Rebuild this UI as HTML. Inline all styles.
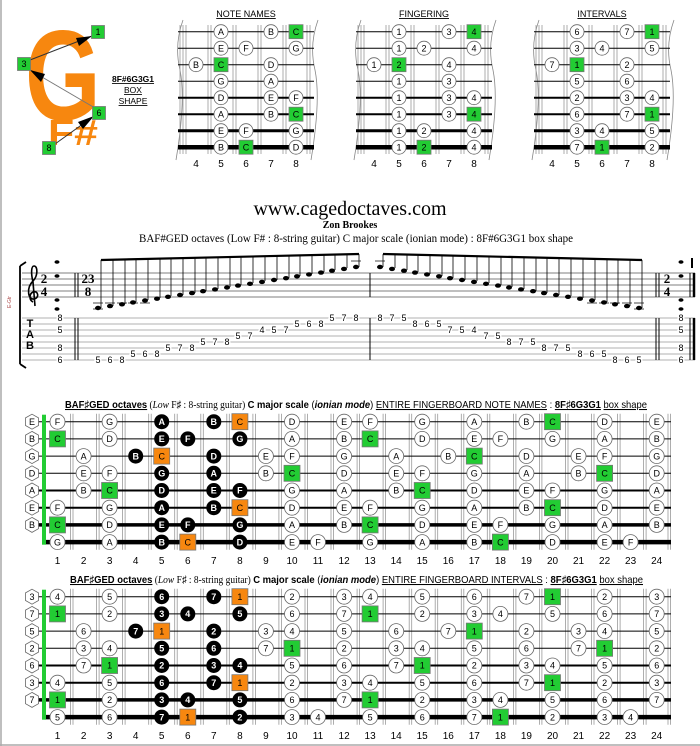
<!DOCTYPE html>
<html><head><meta charset="utf-8"><style>
html,body{margin:0;padding:0;background:#fff}
svg{display:block;font-family:"Liberation Sans",sans-serif;font-size:9px;text-anchor:middle}
.w circle{fill:#fff;stroke:#666;stroke-width:.8}
.b circle{fill:#000}
.b text{fill:#fff;font-weight:bold}
.g rect{fill:#22cc33;stroke:#777;stroke-width:.8}
.o rect{fill:#f7870f;stroke:#777;stroke-width:.8}
.h polygon{fill:#fff;stroke:#666;stroke-width:.8}
.fn{font-size:10px}
.tab text{font-size:9px;paint-order:stroke;stroke:#fff;stroke-width:3px}
.fr line{stroke:#999;stroke-width:.8}
</style></head><body>
<svg width="700" height="746" viewBox="0 0 700 746" xmlns="http://www.w3.org/2000/svg">
<rect x="0" y="0" width="700" height="746" fill="#fff"/>
<line x1="1" y1="0" x2="1" y2="746" stroke="#aaa" stroke-width="1.5"/>
<line x1="0" y1="745" x2="700" y2="745" stroke="#aaa" stroke-width="1.5"/>

<!-- LOGO -->
<text transform="translate(25,120) scale(0.76,1)" font-size="128" font-weight="bold" fill="#f7870f" text-anchor="start">G</text>
<text transform="translate(48,145) scale(1.19,1)" font-size="36" font-weight="bold" fill="#f7870f" text-anchor="start">F#</text>
<line x1="30" y1="60" x2="92" y2="36" stroke="#333" stroke-width="1"/>
<polygon points="92,36 76,38 79,46" fill="#000"/>
<line x1="95" y1="108" x2="30" y2="70" stroke="#777" stroke-width="1"/>
<polygon points="30,70 41,82 45,74" fill="#000"/>
<line x1="55" y1="144" x2="94" y2="116" stroke="#333" stroke-width="1"/>
<polygon points="94,116 78,122 83,129" fill="#000"/>
<g class="g" transform="translate(98,32)"><rect x="-6.5" y="-6.5" width="13" height="13"/><text y="3">1</text></g>
<g class="g" transform="translate(24,64)"><rect x="-6.5" y="-6.5" width="13" height="13"/><text y="3">3</text></g>
<g class="g" transform="translate(99,113)"><rect x="-6.5" y="-6.5" width="13" height="13"/><text y="3">6</text></g>
<g class="g" transform="translate(49,148)"><rect x="-6.5" y="-6.5" width="13" height="13"/><text y="3">8</text></g>
<text x="133" y="82" font-size="8.5" font-weight="bold" text-decoration="underline">8F#6G3G1</text>
<text x="133" y="93" font-size="8.5" text-decoration="underline">BOX</text>
<text x="133" y="104" font-size="8.5" text-decoration="underline">SHAPE</text>

<!-- TOP DIAGRAM TEMPLATE -->
<g id="d1">
<path d="M183,20 Q174,45 180,70 Q186,100 176,160" fill="none" stroke="#888" stroke-width=".8"/>
<path d="M318,20 Q309,45 315,70 Q321,100 311,160" fill="none" stroke="#888" stroke-width=".8"/>
<g class="fr">
<line x1="180" y1="25" x2="180" y2="154"/><line x1="183" y1="25" x2="183" y2="154"/><line x1="186" y1="25" x2="186" y2="154"/>
<line x1="208" y1="25" x2="208" y2="154"/><line x1="211" y1="25" x2="211" y2="154"/>
<line x1="233" y1="25" x2="233" y2="154"/><line x1="236" y1="25" x2="236" y2="154"/>
<line x1="258" y1="25" x2="258" y2="154"/><line x1="261" y1="25" x2="261" y2="154"/>
<line x1="283" y1="25" x2="283" y2="154"/><line x1="286" y1="25" x2="286" y2="154"/>
<line x1="307" y1="25" x2="307" y2="154"/><line x1="310" y1="25" x2="310" y2="154"/>
</g>
<g stroke="#000">
<line x1="178" y1="31.7" x2="314" y2="31.7" stroke-width="1"/>
<line x1="178" y1="48.2" x2="314" y2="48.2" stroke-width="1"/>
<line x1="178" y1="64.7" x2="314" y2="64.7" stroke-width="1"/>
<line x1="178" y1="81.2" x2="314" y2="81.2" stroke-width="1"/>
<line x1="178" y1="97.7" x2="314" y2="97.7" stroke-width="2"/>
<line x1="178" y1="114.2" x2="314" y2="114.2" stroke-width="2"/>
<line x1="178" y1="130.7" x2="314" y2="130.7" stroke-width="3"/>
<line x1="178" y1="147.2" x2="314" y2="147.2" stroke-width="4.5"/>
</g>
<text class="fn" x="196" y="167">4</text><text class="fn" x="221" y="167">5</text><text class="fn" x="246" y="167">6</text><text class="fn" x="271" y="167">7</text><text class="fn" x="296" y="167">8</text>
</g>
<use href="#d1" transform="translate(178,0)"/>
<use href="#d1" transform="translate(356,0)"/>
<text x="246" y="17" text-decoration="underline">NOTE NAMES</text>
<text x="424" y="17" text-decoration="underline">FINGERING</text>
<text x="602" y="17" text-decoration="underline">INTERVALS</text>

<!-- note names -->
<g class="w" transform="translate(221,31.7)"><circle r="7"/><text y="3.2">A</text></g>
<g class="w" transform="translate(271,31.7)"><circle r="7"/><text y="3.2">B</text></g>
<g class="g" transform="translate(296,31.7)"><rect x="-7" y="-7" width="14" height="14"/><text y="3.2">C</text></g>
<g class="w" transform="translate(221,48.2)"><circle r="7"/><text y="3.2">E</text></g>
<g class="w" transform="translate(246,48.2)"><circle r="7"/><text y="3.2">F</text></g>
<g class="w" transform="translate(296,48.2)"><circle r="7"/><text y="3.2">G</text></g>
<g class="w" transform="translate(196,64.7)"><circle r="7"/><text y="3.2">B</text></g>
<g class="g" transform="translate(221,64.7)"><rect x="-7" y="-7" width="14" height="14"/><text y="3.2">C</text></g>
<g class="w" transform="translate(271,64.7)"><circle r="7"/><text y="3.2">D</text></g>
<g class="w" transform="translate(221,81.2)"><circle r="7"/><text y="3.2">G</text></g>
<g class="w" transform="translate(271,81.2)"><circle r="7"/><text y="3.2">A</text></g>
<g class="w" transform="translate(221,97.7)"><circle r="7"/><text y="3.2">D</text></g>
<g class="w" transform="translate(271,97.7)"><circle r="7"/><text y="3.2">E</text></g>
<g class="w" transform="translate(296,97.7)"><circle r="7"/><text y="3.2">F</text></g>
<g class="w" transform="translate(221,114.2)"><circle r="7"/><text y="3.2">A</text></g>
<g class="w" transform="translate(271,114.2)"><circle r="7"/><text y="3.2">B</text></g>
<g class="g" transform="translate(296,114.2)"><rect x="-7" y="-7" width="14" height="14"/><text y="3.2">C</text></g>
<g class="w" transform="translate(221,130.7)"><circle r="7"/><text y="3.2">E</text></g>
<g class="w" transform="translate(246,130.7)"><circle r="7"/><text y="3.2">F</text></g>
<g class="w" transform="translate(296,130.7)"><circle r="7"/><text y="3.2">G</text></g>
<g class="w" transform="translate(221,147.2)"><circle r="7"/><text y="3.2">B</text></g>
<g class="g" transform="translate(246,147.2)"><rect x="-7" y="-7" width="14" height="14"/><text y="3.2">C</text></g>
<g class="w" transform="translate(296,147.2)"><circle r="7"/><text y="3.2">D</text></g>
<!-- fingering -->
<g class="w" transform="translate(399,31.7)"><circle r="7"/><text y="3.2">1</text></g>
<g class="w" transform="translate(449,31.7)"><circle r="7"/><text y="3.2">3</text></g>
<g class="g" transform="translate(474,31.7)"><rect x="-7" y="-7" width="14" height="14"/><text y="3.2">4</text></g>
<g class="w" transform="translate(399,48.2)"><circle r="7"/><text y="3.2">1</text></g>
<g class="w" transform="translate(424,48.2)"><circle r="7"/><text y="3.2">2</text></g>
<g class="w" transform="translate(474,48.2)"><circle r="7"/><text y="3.2">4</text></g>
<g class="w" transform="translate(374,64.7)"><circle r="7"/><text y="3.2">1</text></g>
<g class="g" transform="translate(399,64.7)"><rect x="-7" y="-7" width="14" height="14"/><text y="3.2">2</text></g>
<g class="w" transform="translate(449,64.7)"><circle r="7"/><text y="3.2">4</text></g>
<g class="w" transform="translate(399,81.2)"><circle r="7"/><text y="3.2">1</text></g>
<g class="w" transform="translate(449,81.2)"><circle r="7"/><text y="3.2">3</text></g>
<g class="w" transform="translate(399,97.7)"><circle r="7"/><text y="3.2">1</text></g>
<g class="w" transform="translate(449,97.7)"><circle r="7"/><text y="3.2">3</text></g>
<g class="w" transform="translate(474,97.7)"><circle r="7"/><text y="3.2">4</text></g>
<g class="w" transform="translate(399,114.2)"><circle r="7"/><text y="3.2">1</text></g>
<g class="w" transform="translate(449,114.2)"><circle r="7"/><text y="3.2">3</text></g>
<g class="g" transform="translate(474,114.2)"><rect x="-7" y="-7" width="14" height="14"/><text y="3.2">4</text></g>
<g class="w" transform="translate(399,130.7)"><circle r="7"/><text y="3.2">1</text></g>
<g class="w" transform="translate(424,130.7)"><circle r="7"/><text y="3.2">2</text></g>
<g class="w" transform="translate(474,130.7)"><circle r="7"/><text y="3.2">4</text></g>
<g class="w" transform="translate(399,147.2)"><circle r="7"/><text y="3.2">1</text></g>
<g class="g" transform="translate(424,147.2)"><rect x="-7" y="-7" width="14" height="14"/><text y="3.2">2</text></g>
<g class="w" transform="translate(474,147.2)"><circle r="7"/><text y="3.2">4</text></g>
<!-- intervals -->
<g class="w" transform="translate(577,31.7)"><circle r="7"/><text y="3.2">6</text></g>
<g class="w" transform="translate(627,31.7)"><circle r="7"/><text y="3.2">7</text></g>
<g class="g" transform="translate(652,31.7)"><rect x="-7" y="-7" width="14" height="14"/><text y="3.2">1</text></g>
<g class="w" transform="translate(577,48.2)"><circle r="7"/><text y="3.2">3</text></g>
<g class="w" transform="translate(602,48.2)"><circle r="7"/><text y="3.2">4</text></g>
<g class="w" transform="translate(652,48.2)"><circle r="7"/><text y="3.2">5</text></g>
<g class="w" transform="translate(552,64.7)"><circle r="7"/><text y="3.2">7</text></g>
<g class="g" transform="translate(577,64.7)"><rect x="-7" y="-7" width="14" height="14"/><text y="3.2">1</text></g>
<g class="w" transform="translate(627,64.7)"><circle r="7"/><text y="3.2">2</text></g>
<g class="w" transform="translate(577,81.2)"><circle r="7"/><text y="3.2">5</text></g>
<g class="w" transform="translate(627,81.2)"><circle r="7"/><text y="3.2">6</text></g>
<g class="w" transform="translate(577,97.7)"><circle r="7"/><text y="3.2">2</text></g>
<g class="w" transform="translate(627,97.7)"><circle r="7"/><text y="3.2">3</text></g>
<g class="w" transform="translate(652,97.7)"><circle r="7"/><text y="3.2">4</text></g>
<g class="w" transform="translate(577,114.2)"><circle r="7"/><text y="3.2">6</text></g>
<g class="w" transform="translate(627,114.2)"><circle r="7"/><text y="3.2">7</text></g>
<g class="g" transform="translate(652,114.2)"><rect x="-7" y="-7" width="14" height="14"/><text y="3.2">1</text></g>
<g class="w" transform="translate(577,130.7)"><circle r="7"/><text y="3.2">3</text></g>
<g class="w" transform="translate(602,130.7)"><circle r="7"/><text y="3.2">4</text></g>
<g class="w" transform="translate(652,130.7)"><circle r="7"/><text y="3.2">5</text></g>
<g class="w" transform="translate(577,147.2)"><circle r="7"/><text y="3.2">7</text></g>
<g class="g" transform="translate(602,147.2)"><rect x="-7" y="-7" width="14" height="14"/><text y="3.2">1</text></g>
<g class="w" transform="translate(652,147.2)"><circle r="7"/><text y="3.2">2</text></g>

<!-- HEADER TEXT -->
<text x="350" y="215" style="font-family:'Liberation Serif',serif;font-size:20px">www.cagedoctaves.com</text>
<text x="350" y="228" style="font-family:'Liberation Serif',serif;font-size:10px;font-weight:bold">Zon Brookes</text>
<text x="356" y="242" style="font-family:'Liberation Serif',serif;font-size:11.5px" textLength="434" lengthAdjust="spacingAndGlyphs">BAF#GED octaves (Low F# : 8-string guitar) C major scale (ionian mode) : 8F#6G3G1 box shape</text>

<!-- STAFF -->
<g stroke="#555" stroke-width=".8">
<line x1="22" y1="273" x2="695" y2="273"/><line x1="22" y1="279" x2="695" y2="279"/><line x1="22" y1="285" x2="695" y2="285"/><line x1="22" y1="291" x2="695" y2="291"/><line x1="22" y1="297" x2="695" y2="297"/>
</g>
<g stroke="#999" stroke-width=".8">
<line x1="22" y1="318" x2="695" y2="318"/><line x1="22" y1="324" x2="695" y2="324"/><line x1="22" y1="330" x2="695" y2="330"/><line x1="22" y1="336" x2="695" y2="336"/><line x1="22" y1="342" x2="695" y2="342"/><line x1="22" y1="348" x2="695" y2="348"/><line x1="22" y1="354" x2="695" y2="354"/><line x1="22" y1="360" x2="695" y2="360"/>
</g>
<path d="M20,266 L20,364 M20,266 q3,-2 6,-4 M20,364 q3,2 6,4" stroke="#000" stroke-width="1.8" fill="none"/>
<text transform="translate(11,302) rotate(-90)" font-size="5" fill="#a44">E-Gtr</text>
<path d="M33,302 C29,300 29,294 33,292 C38,290 40,298 34,299 C28,300 26,288 33,281 C38,276 38,266 34,266 C31,266 31,274 33,282 L35,306" stroke="#000" stroke-width="1.6" fill="none"/>
<g style="font-family:'Liberation Serif',serif;font-weight:bold;font-size:13px">
<text x="44" y="283">2</text><text x="44" y="296">4</text>
<text x="88" y="283">23</text><text x="88" y="296">8</text>
<text x="667" y="283">2</text><text x="667" y="296">4</text>
</g>
<g fill="#000">
<ellipse cx="57" cy="262" rx="2.5" ry="1.8"/><ellipse cx="57" cy="276" rx="2.5" ry="1.8"/><ellipse cx="57" cy="300" rx="2.5" ry="1.8"/><ellipse cx="57" cy="309" rx="2.5" ry="1.8"/>
<ellipse cx="681" cy="262" rx="2.5" ry="1.8"/><ellipse cx="681" cy="276" rx="2.5" ry="1.8"/><ellipse cx="681" cy="300" rx="2.5" ry="1.8"/><ellipse cx="681" cy="309" rx="2.5" ry="1.8"/>
</g>
<g stroke="#000">
<line x1="75" y1="273" x2="75" y2="297" stroke-width="1"/><line x1="78" y1="273" x2="78" y2="297" stroke-width="1"/>
<line x1="75" y1="318" x2="75" y2="360" stroke-width="1"/><line x1="78" y1="318" x2="78" y2="360" stroke-width="1"/>
<line x1="370" y1="273" x2="370" y2="297" stroke-width="1"/><line x1="370" y1="318" x2="370" y2="360" stroke-width="1"/>
<line x1="656" y1="273" x2="656" y2="297" stroke-width="1"/><line x1="659" y1="273" x2="659" y2="297" stroke-width="1"/>
<line x1="656" y1="318" x2="656" y2="360" stroke-width="1"/><line x1="659" y1="318" x2="659" y2="360" stroke-width="1"/>
<line x1="690" y1="273" x2="690" y2="297" stroke-width="1"/><line x1="694" y1="273" x2="694" y2="297" stroke-width="2.5"/>
<line x1="690" y1="318" x2="690" y2="360" stroke-width="1"/><line x1="694" y1="318" x2="694" y2="360" stroke-width="2.5"/>
<line x1="692" y1="258" x2="692" y2="268" stroke-width="2"/>
</g>
<g style="font-size:11px;font-weight:bold"><text x="30" y="327">T</text><text x="30" y="338">A</text><text x="30" y="349">B</text></g>
<defs>
<clipPath id="c1"><polygon points="95,260 365,254 365,330 95,330"/></clipPath>
<clipPath id="c2"><polygon points="375,254 645,260 645,330 375,330"/></clipPath>
</defs>
<g fill="#000">
<ellipse cx="98" cy="308" rx="3" ry="2.2"/><ellipse cx="110" cy="306.1" rx="3" ry="2.2"/><ellipse cx="122" cy="304.3" rx="3" ry="2.2"/><ellipse cx="133" cy="302.4" rx="3" ry="2.2"/><ellipse cx="145" cy="300.5" rx="3" ry="2.2"/><ellipse cx="157" cy="298.7" rx="3" ry="2.2"/><ellipse cx="168" cy="296.8" rx="3" ry="2.2"/><ellipse cx="180" cy="295" rx="3" ry="2.2"/><ellipse cx="192" cy="293.1" rx="3" ry="2.2"/><ellipse cx="203" cy="291.2" rx="3" ry="2.2"/><ellipse cx="215" cy="289.4" rx="3" ry="2.2"/><ellipse cx="227" cy="287.5" rx="3" ry="2.2"/><ellipse cx="238" cy="285.6" rx="3" ry="2.2"/><ellipse cx="250" cy="283.8" rx="3" ry="2.2"/><ellipse cx="262" cy="281.9" rx="3" ry="2.2"/><ellipse cx="274" cy="280" rx="3" ry="2.2"/><ellipse cx="286" cy="278.2" rx="3" ry="2.2"/><ellipse cx="297" cy="276.3" rx="3" ry="2.2"/><ellipse cx="309" cy="274.4" rx="3" ry="2.2"/><ellipse cx="321" cy="272.6" rx="3" ry="2.2"/><ellipse cx="332" cy="270.7" rx="3" ry="2.2"/><ellipse cx="344" cy="268.9" rx="3" ry="2.2"/><ellipse cx="356" cy="267" rx="3" ry="2.2"/>
<ellipse cx="380" cy="267" rx="3" ry="2.2"/><ellipse cx="392" cy="268.9" rx="3" ry="2.2"/><ellipse cx="404" cy="270.7" rx="3" ry="2.2"/><ellipse cx="415" cy="272.6" rx="3" ry="2.2"/><ellipse cx="427" cy="274.4" rx="3" ry="2.2"/><ellipse cx="439" cy="276.3" rx="3" ry="2.2"/><ellipse cx="450" cy="278.2" rx="3" ry="2.2"/><ellipse cx="462" cy="280" rx="3" ry="2.2"/><ellipse cx="474" cy="281.9" rx="3" ry="2.2"/><ellipse cx="486" cy="283.8" rx="3" ry="2.2"/><ellipse cx="498" cy="285.6" rx="3" ry="2.2"/><ellipse cx="509" cy="287.5" rx="3" ry="2.2"/><ellipse cx="521" cy="289.4" rx="3" ry="2.2"/><ellipse cx="533" cy="291.2" rx="3" ry="2.2"/><ellipse cx="544" cy="293.1" rx="3" ry="2.2"/><ellipse cx="556" cy="295" rx="3" ry="2.2"/><ellipse cx="568" cy="296.8" rx="3" ry="2.2"/><ellipse cx="580" cy="298.7" rx="3" ry="2.2"/><ellipse cx="592" cy="300.5" rx="3" ry="2.2"/><ellipse cx="604" cy="302.4" rx="3" ry="2.2"/><ellipse cx="615" cy="304.3" rx="3" ry="2.2"/><ellipse cx="627" cy="306.1" rx="3" ry="2.2"/><ellipse cx="639" cy="308" rx="3" ry="2.2"/>
</g>
<g stroke="#000" stroke-width=".8" clip-path="url(#c1)">
<line x1="101" y1="308" x2="101" y2="250"/><line x1="113" y1="306" x2="113" y2="250"/><line x1="125" y1="304" x2="125" y2="250"/><line x1="136" y1="302" x2="136" y2="250"/><line x1="148" y1="300" x2="148" y2="250"/><line x1="160" y1="298" x2="160" y2="250"/><line x1="171" y1="296" x2="171" y2="250"/><line x1="183" y1="295" x2="183" y2="250"/><line x1="195" y1="293" x2="195" y2="250"/><line x1="206" y1="291" x2="206" y2="250"/><line x1="218" y1="289" x2="218" y2="250"/><line x1="230" y1="287" x2="230" y2="250"/><line x1="241" y1="285" x2="241" y2="250"/><line x1="253" y1="283" x2="253" y2="250"/><line x1="265" y1="281" x2="265" y2="250"/><line x1="277" y1="280" x2="277" y2="250"/><line x1="289" y1="278" x2="289" y2="250"/><line x1="300" y1="276" x2="300" y2="250"/><line x1="312" y1="274" x2="312" y2="250"/><line x1="324" y1="272" x2="324" y2="250"/><line x1="335" y1="270" x2="335" y2="250"/><line x1="347" y1="268" x2="347" y2="250"/><line x1="359" y1="267" x2="359" y2="250"/>
</g>
<g stroke="#000" stroke-width=".8" clip-path="url(#c2)">
<line x1="383" y1="267" x2="383" y2="250"/><line x1="395" y1="268" x2="395" y2="250"/><line x1="407" y1="270" x2="407" y2="250"/><line x1="418" y1="272" x2="418" y2="250"/><line x1="430" y1="274" x2="430" y2="250"/><line x1="442" y1="276" x2="442" y2="250"/><line x1="453" y1="278" x2="453" y2="250"/><line x1="465" y1="280" x2="465" y2="250"/><line x1="477" y1="281" x2="477" y2="250"/><line x1="489" y1="283" x2="489" y2="250"/><line x1="501" y1="285" x2="501" y2="250"/><line x1="512" y1="287" x2="512" y2="250"/><line x1="524" y1="289" x2="524" y2="250"/><line x1="536" y1="291" x2="536" y2="250"/><line x1="547" y1="293" x2="547" y2="250"/><line x1="559" y1="295" x2="559" y2="250"/><line x1="571" y1="296" x2="571" y2="250"/><line x1="583" y1="298" x2="583" y2="250"/><line x1="595" y1="300" x2="595" y2="250"/><line x1="607" y1="302" x2="607" y2="250"/><line x1="618" y1="304" x2="618" y2="250"/><line x1="630" y1="306" x2="630" y2="250"/><line x1="642" y1="308" x2="642" y2="250"/>
</g>
<line x1="101" y1="260" x2="359" y2="254" stroke="#000" stroke-width="2.2"/>
<line x1="383" y1="254" x2="642" y2="260" stroke="#000" stroke-width="2.2"/>
<g stroke="#000" stroke-width=".7">
<line x1="93" y1="303" x2="103" y2="303"/><line x1="93" y1="309" x2="103" y2="309"/><line x1="105" y1="303" x2="115" y2="303"/><line x1="117" y1="303" x2="127" y2="303"/><line x1="128" y1="303" x2="138" y2="303"/><line x1="140" y1="303" x2="150" y2="303"/>
<line x1="634" y1="303" x2="644" y2="303"/><line x1="634" y1="309" x2="644" y2="309"/><line x1="622" y1="303" x2="632" y2="303"/><line x1="610" y1="303" x2="620" y2="303"/><line x1="599" y1="303" x2="609" y2="303"/><line x1="587" y1="303" x2="597" y2="303"/>
<line x1="351" y1="261" x2="361" y2="261"/><line x1="375" y1="261" x2="385" y2="261"/>
</g>
<!-- TAB -->
<g class="tab">
<text x="60" y="321">8</text><text x="60" y="333">5</text><text x="60" y="351">8</text><text x="60" y="363">6</text>
<text x="681" y="321">8</text><text x="681" y="333">5</text><text x="681" y="351">8</text><text x="681" y="363">6</text>
<text x="98" y="363">5</text><text x="110" y="363">6</text><text x="122" y="363">8</text>
<text x="133" y="357">5</text><text x="145" y="357">6</text><text x="157" y="357">8</text>
<text x="168" y="351">5</text><text x="180" y="351">7</text><text x="192" y="351">8</text>
<text x="203" y="345">5</text><text x="215" y="345">7</text><text x="227" y="345">8</text>
<text x="238" y="339">5</text><text x="250" y="339">7</text>
<text x="262" y="333">4</text><text x="274" y="333">5</text><text x="286" y="333">7</text>
<text x="297" y="327">5</text><text x="309" y="327">6</text><text x="321" y="327">8</text>
<text x="332" y="321">5</text><text x="344" y="321">7</text><text x="356" y="321">8</text>
<text x="380" y="321">8</text><text x="392" y="321">7</text><text x="404" y="321">5</text>
<text x="415" y="327">8</text><text x="427" y="327">6</text><text x="439" y="327">5</text>
<text x="450" y="333">7</text><text x="462" y="333">5</text><text x="474" y="333">4</text>
<text x="486" y="339">7</text><text x="498" y="339">5</text>
<text x="509" y="345">8</text><text x="521" y="345">7</text><text x="533" y="345">5</text>
<text x="544" y="351">8</text><text x="556" y="351">7</text><text x="568" y="351">5</text>
<text x="580" y="357">8</text><text x="592" y="357">6</text><text x="604" y="357">5</text>
<text x="615" y="363">8</text><text x="627" y="363">6</text><text x="639" y="363">5</text>
</g>

<!-- BIG FRETBOARD TEMPLATE -->
<defs>
<g id="fb">
<g class="fr">
<line x1="70.5" y1="-8" x2="70.5" y2="128"/><line x1="73" y1="-8" x2="73" y2="128"/>
<line x1="96.6" y1="-8" x2="96.6" y2="128"/><line x1="99.1" y1="-8" x2="99.1" y2="128"/>
<line x1="122.6" y1="-8" x2="122.6" y2="128"/><line x1="125.1" y1="-8" x2="125.1" y2="128"/>
<line x1="148.7" y1="-8" x2="148.7" y2="128"/><line x1="151.2" y1="-8" x2="151.2" y2="128"/>
<line x1="174.7" y1="-8" x2="174.7" y2="128"/><line x1="177.2" y1="-8" x2="177.2" y2="128"/>
<line x1="200.8" y1="-8" x2="200.8" y2="128"/><line x1="203.3" y1="-8" x2="203.3" y2="128"/>
<line x1="226.8" y1="-8" x2="226.8" y2="128"/><line x1="229.3" y1="-8" x2="229.3" y2="128"/>
<line x1="252.9" y1="-8" x2="252.9" y2="128"/><line x1="255.4" y1="-8" x2="255.4" y2="128"/>
<line x1="278.9" y1="-8" x2="278.9" y2="128"/><line x1="281.4" y1="-8" x2="281.4" y2="128"/>
<line x1="305" y1="-8" x2="305" y2="128"/><line x1="307.5" y1="-8" x2="307.5" y2="128"/>
<line x1="331" y1="-8" x2="331" y2="128"/><line x1="333.5" y1="-8" x2="333.5" y2="128"/>
<line x1="357.1" y1="-8" x2="357.1" y2="128"/><line x1="359.6" y1="-8" x2="359.6" y2="128"/>
<line x1="383.1" y1="-8" x2="383.1" y2="128"/><line x1="385.6" y1="-8" x2="385.6" y2="128"/>
<line x1="409.2" y1="-8" x2="409.2" y2="128"/><line x1="411.7" y1="-8" x2="411.7" y2="128"/>
<line x1="435.2" y1="-8" x2="435.2" y2="128"/><line x1="437.7" y1="-8" x2="437.7" y2="128"/>
<line x1="461.3" y1="-8" x2="461.3" y2="128"/><line x1="463.8" y1="-8" x2="463.8" y2="128"/>
<line x1="487.3" y1="-8" x2="487.3" y2="128"/><line x1="489.8" y1="-8" x2="489.8" y2="128"/>
<line x1="513.4" y1="-8" x2="513.4" y2="128"/><line x1="515.9" y1="-8" x2="515.9" y2="128"/>
<line x1="539.4" y1="-8" x2="539.4" y2="128"/><line x1="541.9" y1="-8" x2="541.9" y2="128"/>
<line x1="565.5" y1="-8" x2="565.5" y2="128"/><line x1="568" y1="-8" x2="568" y2="128"/>
<line x1="591.5" y1="-8" x2="591.5" y2="128"/><line x1="594" y1="-8" x2="594" y2="128"/>
<line x1="617.6" y1="-8" x2="617.6" y2="128"/><line x1="620.1" y1="-8" x2="620.1" y2="128"/>
<line x1="643.6" y1="-8" x2="643.6" y2="128"/><line x1="646.1" y1="-8" x2="646.1" y2="128"/>
<line x1="668" y1="-8" x2="668" y2="128"/><line x1="670.5" y1="-8" x2="670.5" y2="128"/>
</g>
<g stroke="#000">
<line x1="38" y1="0" x2="671" y2="0" stroke-width="1"/>
<line x1="38" y1="17.2" x2="671" y2="17.2" stroke-width="1"/>
<line x1="38" y1="34.4" x2="671" y2="34.4" stroke-width="1"/>
<line x1="38" y1="51.6" x2="671" y2="51.6" stroke-width="1"/>
<line x1="38" y1="68.8" x2="671" y2="68.8" stroke-width="2"/>
<line x1="38" y1="86" x2="671" y2="86" stroke-width="2"/>
<line x1="38" y1="103.2" x2="671" y2="103.2" stroke-width="3.5"/>
<line x1="44" y1="120.4" x2="671" y2="120.4" stroke-width="4.5"/>
</g>
<rect x="42" y="-7" width="4" height="130" fill="#22cc33"/>
</g>
</defs>
<use href="#fb" transform="translate(0,421.7)"/>
<use href="#fb" transform="translate(0,596.7)"/>
<g class="fn">
<text x="57.5" y="564">1</text><text x="83.6" y="564">2</text><text x="109.6" y="564">3</text><text x="135.7" y="564">4</text><text x="161.7" y="564">5</text><text x="187.8" y="564">6</text><text x="213.8" y="564">7</text><text x="239.9" y="564">8</text><text x="265.9" y="564">9</text><text x="292" y="564">10</text><text x="318" y="564">11</text><text x="344.1" y="564">12</text><text x="370.1" y="564">13</text><text x="396.2" y="564">14</text><text x="422.2" y="564">15</text><text x="448.3" y="564">16</text><text x="474.3" y="564">17</text><text x="500.4" y="564">18</text><text x="526.4" y="564">19</text><text x="552.5" y="564">20</text><text x="578.5" y="564">21</text><text x="604.6" y="564">22</text><text x="630.6" y="564">23</text><text x="656.7" y="564">24</text>
<text x="57.5" y="739">1</text><text x="83.6" y="739">2</text><text x="109.6" y="739">3</text><text x="135.7" y="739">4</text><text x="161.7" y="739">5</text><text x="187.8" y="739">6</text><text x="213.8" y="739">7</text><text x="239.9" y="739">8</text><text x="265.9" y="739">9</text><text x="292" y="739">10</text><text x="318" y="739">11</text><text x="344.1" y="739">12</text><text x="370.1" y="739">13</text><text x="396.2" y="739">14</text><text x="422.2" y="739">15</text><text x="448.3" y="739">16</text><text x="474.3" y="739">17</text><text x="500.4" y="739">18</text><text x="526.4" y="739">19</text><text x="552.5" y="739">20</text><text x="578.5" y="739">21</text><text x="604.6" y="739">22</text><text x="630.6" y="739">23</text><text x="656.7" y="739">24</text>
</g>

<text x="65" y="408" font-size="10.5" text-anchor="start" textLength="582" lengthAdjust="spacingAndGlyphs"><tspan font-weight="bold" text-decoration="underline">BAF♯GED octaves</tspan><tspan font-family="Liberation Serif"> (<tspan font-style="italic">Low</tspan> F♯ : 8-string guitar) </tspan><tspan font-weight="bold">C major scale</tspan> (<tspan font-weight="bold" font-style="italic">ionian mode</tspan>) <tspan text-decoration="underline">ENTIRE FINGERBOARD  NOTE NAMES</tspan> : <tspan font-weight="bold" text-decoration="underline">8F♯6G3G1</tspan> <tspan text-decoration="underline">box shape</tspan></text>
<text x="70" y="583" font-size="10.5" text-anchor="start" textLength="573" lengthAdjust="spacingAndGlyphs"><tspan font-weight="bold" text-decoration="underline">BAF♯GED octaves</tspan><tspan font-family="Liberation Serif"> (<tspan font-style="italic">Low</tspan> F♯ : 8-string guitar) </tspan><tspan font-weight="bold">C major scale</tspan> (<tspan font-weight="bold" font-style="italic">ionian mode</tspan>) <tspan text-decoration="underline">ENTIRE FINGERBOARD  INTERVALS</tspan> : <tspan font-weight="bold" text-decoration="underline">8F♯6G3G1</tspan> <tspan text-decoration="underline">box shape</tspan></text>

<!-- BOARD 1 NOTES -->
<g transform="translate(0,421.7)">
<g class="h" transform="translate(32,0)"><polygon points="0,-7.5 6.5,-3.8 6.5,3.8 0,7.5 -6.5,3.8 -6.5,-3.8"/><text y="3.2">E</text></g>
<g class="h" transform="translate(32,17.2)"><polygon points="0,-7.5 6.5,-3.8 6.5,3.8 0,7.5 -6.5,3.8 -6.5,-3.8"/><text y="3.2">B</text></g>
<g class="h" transform="translate(32,34.4)"><polygon points="0,-7.5 6.5,-3.8 6.5,3.8 0,7.5 -6.5,3.8 -6.5,-3.8"/><text y="3.2">G</text></g>
<g class="h" transform="translate(32,51.6)"><polygon points="0,-7.5 6.5,-3.8 6.5,3.8 0,7.5 -6.5,3.8 -6.5,-3.8"/><text y="3.2">D</text></g>
<g class="h" transform="translate(32,68.8)"><polygon points="0,-7.5 6.5,-3.8 6.5,3.8 0,7.5 -6.5,3.8 -6.5,-3.8"/><text y="3.2">A</text></g>
<g class="h" transform="translate(32,86)"><polygon points="0,-7.5 6.5,-3.8 6.5,3.8 0,7.5 -6.5,3.8 -6.5,-3.8"/><text y="3.2">E</text></g>
<g class="h" transform="translate(32,103.2)"><polygon points="0,-7.5 6.5,-3.8 6.5,3.8 0,7.5 -6.5,3.8 -6.5,-3.8"/><text y="3.2">B</text></g>
<g class="w" transform="translate(57.5,0)"><circle r="7.5"/><text y="3.2">F</text></g>
<g class="w" transform="translate(109.6,0)"><circle r="7.5"/><text y="3.2">G</text></g>
<g class="b" transform="translate(161.7,0)"><circle r="7.5"/><text y="3.2">A</text></g>
<g class="b" transform="translate(213.8,0)"><circle r="7.5"/><text y="3.2">B</text></g>
<g class="o" transform="translate(239.9,0)"><rect x="-8" y="-8" width="16" height="16"/><text y="3.2">C</text></g>
<g class="w" transform="translate(292,0)"><circle r="7.5"/><text y="3.2">D</text></g>
<g class="w" transform="translate(344.1,0)"><circle r="7.5"/><text y="3.2">E</text></g>
<g class="w" transform="translate(370.1,0)"><circle r="7.5"/><text y="3.2">F</text></g>
<g class="w" transform="translate(422.2,0)"><circle r="7.5"/><text y="3.2">G</text></g>
<g class="w" transform="translate(474.3,0)"><circle r="7.5"/><text y="3.2">A</text></g>
<g class="w" transform="translate(526.4,0)"><circle r="7.5"/><text y="3.2">B</text></g>
<g class="g" transform="translate(552.5,0)"><rect x="-8" y="-8" width="16" height="16"/><text y="3.2">C</text></g>
<g class="w" transform="translate(604.6,0)"><circle r="7.5"/><text y="3.2">D</text></g>
<g class="w" transform="translate(656.7,0)"><circle r="7.5"/><text y="3.2">E</text></g>
<g class="g" transform="translate(57.5,17.2)"><rect x="-8" y="-8" width="16" height="16"/><text y="3.2">C</text></g>
<g class="w" transform="translate(109.6,17.2)"><circle r="7.5"/><text y="3.2">D</text></g>
<g class="b" transform="translate(161.7,17.2)"><circle r="7.5"/><text y="3.2">E</text></g>
<g class="b" transform="translate(187.8,17.2)"><circle r="7.5"/><text y="3.2">F</text></g>
<g class="b" transform="translate(239.9,17.2)"><circle r="7.5"/><text y="3.2">G</text></g>
<g class="w" transform="translate(292,17.2)"><circle r="7.5"/><text y="3.2">A</text></g>
<g class="w" transform="translate(344.1,17.2)"><circle r="7.5"/><text y="3.2">B</text></g>
<g class="g" transform="translate(370.1,17.2)"><rect x="-8" y="-8" width="16" height="16"/><text y="3.2">C</text></g>
<g class="w" transform="translate(422.2,17.2)"><circle r="7.5"/><text y="3.2">D</text></g>
<g class="w" transform="translate(474.3,17.2)"><circle r="7.5"/><text y="3.2">E</text></g>
<g class="w" transform="translate(500.4,17.2)"><circle r="7.5"/><text y="3.2">F</text></g>
<g class="w" transform="translate(552.5,17.2)"><circle r="7.5"/><text y="3.2">G</text></g>
<g class="w" transform="translate(604.6,17.2)"><circle r="7.5"/><text y="3.2">A</text></g>
<g class="w" transform="translate(656.7,17.2)"><circle r="7.5"/><text y="3.2">B</text></g>
<g class="w" transform="translate(83.6,34.4)"><circle r="7.5"/><text y="3.2">A</text></g>
<g class="b" transform="translate(135.7,34.4)"><circle r="7.5"/><text y="3.2">B</text></g>
<g class="o" transform="translate(161.7,34.4)"><rect x="-8" y="-8" width="16" height="16"/><text y="3.2">C</text></g>
<g class="b" transform="translate(213.8,34.4)"><circle r="7.5"/><text y="3.2">D</text></g>
<g class="w" transform="translate(265.9,34.4)"><circle r="7.5"/><text y="3.2">E</text></g>
<g class="w" transform="translate(292,34.4)"><circle r="7.5"/><text y="3.2">F</text></g>
<g class="w" transform="translate(344.1,34.4)"><circle r="7.5"/><text y="3.2">G</text></g>
<g class="w" transform="translate(396.2,34.4)"><circle r="7.5"/><text y="3.2">A</text></g>
<g class="w" transform="translate(448.3,34.4)"><circle r="7.5"/><text y="3.2">B</text></g>
<g class="g" transform="translate(474.3,34.4)"><rect x="-8" y="-8" width="16" height="16"/><text y="3.2">C</text></g>
<g class="w" transform="translate(526.4,34.4)"><circle r="7.5"/><text y="3.2">D</text></g>
<g class="w" transform="translate(578.5,34.4)"><circle r="7.5"/><text y="3.2">E</text></g>
<g class="w" transform="translate(604.6,34.4)"><circle r="7.5"/><text y="3.2">F</text></g>
<g class="w" transform="translate(656.7,34.4)"><circle r="7.5"/><text y="3.2">G</text></g>
<g class="w" transform="translate(83.6,51.6)"><circle r="7.5"/><text y="3.2">E</text></g>
<g class="w" transform="translate(109.6,51.6)"><circle r="7.5"/><text y="3.2">F</text></g>
<g class="b" transform="translate(161.7,51.6)"><circle r="7.5"/><text y="3.2">G</text></g>
<g class="b" transform="translate(213.8,51.6)"><circle r="7.5"/><text y="3.2">A</text></g>
<g class="w" transform="translate(265.9,51.6)"><circle r="7.5"/><text y="3.2">B</text></g>
<g class="g" transform="translate(292,51.6)"><rect x="-8" y="-8" width="16" height="16"/><text y="3.2">C</text></g>
<g class="w" transform="translate(344.1,51.6)"><circle r="7.5"/><text y="3.2">D</text></g>
<g class="w" transform="translate(396.2,51.6)"><circle r="7.5"/><text y="3.2">E</text></g>
<g class="w" transform="translate(422.2,51.6)"><circle r="7.5"/><text y="3.2">F</text></g>
<g class="w" transform="translate(474.3,51.6)"><circle r="7.5"/><text y="3.2">G</text></g>
<g class="w" transform="translate(526.4,51.6)"><circle r="7.5"/><text y="3.2">A</text></g>
<g class="w" transform="translate(578.5,51.6)"><circle r="7.5"/><text y="3.2">B</text></g>
<g class="g" transform="translate(604.6,51.6)"><rect x="-8" y="-8" width="16" height="16"/><text y="3.2">C</text></g>
<g class="w" transform="translate(656.7,51.6)"><circle r="7.5"/><text y="3.2">D</text></g>
<g class="w" transform="translate(83.6,68.8)"><circle r="7.5"/><text y="3.2">B</text></g>
<g class="g" transform="translate(109.6,68.8)"><rect x="-8" y="-8" width="16" height="16"/><text y="3.2">C</text></g>
<g class="b" transform="translate(161.7,68.8)"><circle r="7.5"/><text y="3.2">D</text></g>
<g class="b" transform="translate(213.8,68.8)"><circle r="7.5"/><text y="3.2">E</text></g>
<g class="b" transform="translate(239.9,68.8)"><circle r="7.5"/><text y="3.2">F</text></g>
<g class="w" transform="translate(292,68.8)"><circle r="7.5"/><text y="3.2">G</text></g>
<g class="w" transform="translate(344.1,68.8)"><circle r="7.5"/><text y="3.2">A</text></g>
<g class="w" transform="translate(396.2,68.8)"><circle r="7.5"/><text y="3.2">B</text></g>
<g class="g" transform="translate(422.2,68.8)"><rect x="-8" y="-8" width="16" height="16"/><text y="3.2">C</text></g>
<g class="w" transform="translate(474.3,68.8)"><circle r="7.5"/><text y="3.2">D</text></g>
<g class="w" transform="translate(526.4,68.8)"><circle r="7.5"/><text y="3.2">E</text></g>
<g class="w" transform="translate(552.5,68.8)"><circle r="7.5"/><text y="3.2">F</text></g>
<g class="w" transform="translate(604.6,68.8)"><circle r="7.5"/><text y="3.2">G</text></g>
<g class="w" transform="translate(656.7,68.8)"><circle r="7.5"/><text y="3.2">A</text></g>
<g class="w" transform="translate(57.5,86)"><circle r="7.5"/><text y="3.2">F</text></g>
<g class="w" transform="translate(109.6,86)"><circle r="7.5"/><text y="3.2">G</text></g>
<g class="b" transform="translate(161.7,86)"><circle r="7.5"/><text y="3.2">A</text></g>
<g class="b" transform="translate(213.8,86)"><circle r="7.5"/><text y="3.2">B</text></g>
<g class="o" transform="translate(239.9,86)"><rect x="-8" y="-8" width="16" height="16"/><text y="3.2">C</text></g>
<g class="w" transform="translate(292,86)"><circle r="7.5"/><text y="3.2">D</text></g>
<g class="w" transform="translate(344.1,86)"><circle r="7.5"/><text y="3.2">E</text></g>
<g class="w" transform="translate(370.1,86)"><circle r="7.5"/><text y="3.2">F</text></g>
<g class="w" transform="translate(422.2,86)"><circle r="7.5"/><text y="3.2">G</text></g>
<g class="w" transform="translate(474.3,86)"><circle r="7.5"/><text y="3.2">A</text></g>
<g class="w" transform="translate(526.4,86)"><circle r="7.5"/><text y="3.2">B</text></g>
<g class="g" transform="translate(552.5,86)"><rect x="-8" y="-8" width="16" height="16"/><text y="3.2">C</text></g>
<g class="w" transform="translate(604.6,86)"><circle r="7.5"/><text y="3.2">D</text></g>
<g class="w" transform="translate(656.7,86)"><circle r="7.5"/><text y="3.2">E</text></g>
<g class="g" transform="translate(57.5,103.2)"><rect x="-8" y="-8" width="16" height="16"/><text y="3.2">C</text></g>
<g class="w" transform="translate(109.6,103.2)"><circle r="7.5"/><text y="3.2">D</text></g>
<g class="b" transform="translate(161.7,103.2)"><circle r="7.5"/><text y="3.2">E</text></g>
<g class="b" transform="translate(187.8,103.2)"><circle r="7.5"/><text y="3.2">F</text></g>
<g class="b" transform="translate(239.9,103.2)"><circle r="7.5"/><text y="3.2">G</text></g>
<g class="w" transform="translate(292,103.2)"><circle r="7.5"/><text y="3.2">A</text></g>
<g class="w" transform="translate(344.1,103.2)"><circle r="7.5"/><text y="3.2">B</text></g>
<g class="g" transform="translate(370.1,103.2)"><rect x="-8" y="-8" width="16" height="16"/><text y="3.2">C</text></g>
<g class="w" transform="translate(422.2,103.2)"><circle r="7.5"/><text y="3.2">D</text></g>
<g class="w" transform="translate(474.3,103.2)"><circle r="7.5"/><text y="3.2">E</text></g>
<g class="w" transform="translate(500.4,103.2)"><circle r="7.5"/><text y="3.2">F</text></g>
<g class="w" transform="translate(552.5,103.2)"><circle r="7.5"/><text y="3.2">G</text></g>
<g class="w" transform="translate(604.6,103.2)"><circle r="7.5"/><text y="3.2">A</text></g>
<g class="w" transform="translate(656.7,103.2)"><circle r="7.5"/><text y="3.2">B</text></g>
<g class="w" transform="translate(57.5,120.4)"><circle r="7.5"/><text y="3.2">G</text></g>
<g class="w" transform="translate(109.6,120.4)"><circle r="7.5"/><text y="3.2">A</text></g>
<g class="b" transform="translate(161.7,120.4)"><circle r="7.5"/><text y="3.2">B</text></g>
<g class="o" transform="translate(187.8,120.4)"><rect x="-8" y="-8" width="16" height="16"/><text y="3.2">C</text></g>
<g class="b" transform="translate(239.9,120.4)"><circle r="7.5"/><text y="3.2">D</text></g>
<g class="w" transform="translate(292,120.4)"><circle r="7.5"/><text y="3.2">E</text></g>
<g class="w" transform="translate(318,120.4)"><circle r="7.5"/><text y="3.2">F</text></g>
<g class="w" transform="translate(370.1,120.4)"><circle r="7.5"/><text y="3.2">G</text></g>
<g class="w" transform="translate(422.2,120.4)"><circle r="7.5"/><text y="3.2">A</text></g>
<g class="w" transform="translate(474.3,120.4)"><circle r="7.5"/><text y="3.2">B</text></g>
<g class="g" transform="translate(500.4,120.4)"><rect x="-8" y="-8" width="16" height="16"/><text y="3.2">C</text></g>
<g class="w" transform="translate(552.5,120.4)"><circle r="7.5"/><text y="3.2">D</text></g>
<g class="w" transform="translate(604.6,120.4)"><circle r="7.5"/><text y="3.2">E</text></g>
<g class="w" transform="translate(630.6,120.4)"><circle r="7.5"/><text y="3.2">F</text></g>
</g>

<!-- BOARD 2 INTERVALS -->
<g transform="translate(0,596.7)">
<g class="h" transform="translate(32,0)"><polygon points="0,-7.5 6.5,-3.8 6.5,3.8 0,7.5 -6.5,3.8 -6.5,-3.8"/><text y="3.2">3</text></g>
<g class="h" transform="translate(32,17.2)"><polygon points="0,-7.5 6.5,-3.8 6.5,3.8 0,7.5 -6.5,3.8 -6.5,-3.8"/><text y="3.2">7</text></g>
<g class="h" transform="translate(32,34.4)"><polygon points="0,-7.5 6.5,-3.8 6.5,3.8 0,7.5 -6.5,3.8 -6.5,-3.8"/><text y="3.2">5</text></g>
<g class="h" transform="translate(32,51.6)"><polygon points="0,-7.5 6.5,-3.8 6.5,3.8 0,7.5 -6.5,3.8 -6.5,-3.8"/><text y="3.2">2</text></g>
<g class="h" transform="translate(32,68.8)"><polygon points="0,-7.5 6.5,-3.8 6.5,3.8 0,7.5 -6.5,3.8 -6.5,-3.8"/><text y="3.2">6</text></g>
<g class="h" transform="translate(32,86)"><polygon points="0,-7.5 6.5,-3.8 6.5,3.8 0,7.5 -6.5,3.8 -6.5,-3.8"/><text y="3.2">3</text></g>
<g class="h" transform="translate(32,103.2)"><polygon points="0,-7.5 6.5,-3.8 6.5,3.8 0,7.5 -6.5,3.8 -6.5,-3.8"/><text y="3.2">7</text></g>
<g class="w" transform="translate(57.5,0)"><circle r="7.5"/><text y="3.2">4</text></g>
<g class="w" transform="translate(109.6,0)"><circle r="7.5"/><text y="3.2">5</text></g>
<g class="b" transform="translate(161.7,0)"><circle r="7.5"/><text y="3.2">6</text></g>
<g class="b" transform="translate(213.8,0)"><circle r="7.5"/><text y="3.2">7</text></g>
<g class="o" transform="translate(239.9,0)"><rect x="-8" y="-8" width="16" height="16"/><text y="3.2">1</text></g>
<g class="w" transform="translate(292,0)"><circle r="7.5"/><text y="3.2">2</text></g>
<g class="w" transform="translate(344.1,0)"><circle r="7.5"/><text y="3.2">3</text></g>
<g class="w" transform="translate(370.1,0)"><circle r="7.5"/><text y="3.2">4</text></g>
<g class="w" transform="translate(422.2,0)"><circle r="7.5"/><text y="3.2">5</text></g>
<g class="w" transform="translate(474.3,0)"><circle r="7.5"/><text y="3.2">6</text></g>
<g class="w" transform="translate(526.4,0)"><circle r="7.5"/><text y="3.2">7</text></g>
<g class="g" transform="translate(552.5,0)"><rect x="-8" y="-8" width="16" height="16"/><text y="3.2">1</text></g>
<g class="w" transform="translate(604.6,0)"><circle r="7.5"/><text y="3.2">2</text></g>
<g class="w" transform="translate(656.7,0)"><circle r="7.5"/><text y="3.2">3</text></g>
<g class="g" transform="translate(57.5,17.2)"><rect x="-8" y="-8" width="16" height="16"/><text y="3.2">1</text></g>
<g class="w" transform="translate(109.6,17.2)"><circle r="7.5"/><text y="3.2">2</text></g>
<g class="b" transform="translate(161.7,17.2)"><circle r="7.5"/><text y="3.2">3</text></g>
<g class="b" transform="translate(187.8,17.2)"><circle r="7.5"/><text y="3.2">4</text></g>
<g class="b" transform="translate(239.9,17.2)"><circle r="7.5"/><text y="3.2">5</text></g>
<g class="w" transform="translate(292,17.2)"><circle r="7.5"/><text y="3.2">6</text></g>
<g class="w" transform="translate(344.1,17.2)"><circle r="7.5"/><text y="3.2">7</text></g>
<g class="g" transform="translate(370.1,17.2)"><rect x="-8" y="-8" width="16" height="16"/><text y="3.2">1</text></g>
<g class="w" transform="translate(422.2,17.2)"><circle r="7.5"/><text y="3.2">2</text></g>
<g class="w" transform="translate(474.3,17.2)"><circle r="7.5"/><text y="3.2">3</text></g>
<g class="w" transform="translate(500.4,17.2)"><circle r="7.5"/><text y="3.2">4</text></g>
<g class="w" transform="translate(552.5,17.2)"><circle r="7.5"/><text y="3.2">5</text></g>
<g class="w" transform="translate(604.6,17.2)"><circle r="7.5"/><text y="3.2">6</text></g>
<g class="w" transform="translate(656.7,17.2)"><circle r="7.5"/><text y="3.2">7</text></g>
<g class="w" transform="translate(83.6,34.4)"><circle r="7.5"/><text y="3.2">6</text></g>
<g class="b" transform="translate(135.7,34.4)"><circle r="7.5"/><text y="3.2">7</text></g>
<g class="o" transform="translate(161.7,34.4)"><rect x="-8" y="-8" width="16" height="16"/><text y="3.2">1</text></g>
<g class="b" transform="translate(213.8,34.4)"><circle r="7.5"/><text y="3.2">2</text></g>
<g class="w" transform="translate(265.9,34.4)"><circle r="7.5"/><text y="3.2">3</text></g>
<g class="w" transform="translate(292,34.4)"><circle r="7.5"/><text y="3.2">4</text></g>
<g class="w" transform="translate(344.1,34.4)"><circle r="7.5"/><text y="3.2">5</text></g>
<g class="w" transform="translate(396.2,34.4)"><circle r="7.5"/><text y="3.2">6</text></g>
<g class="w" transform="translate(448.3,34.4)"><circle r="7.5"/><text y="3.2">7</text></g>
<g class="g" transform="translate(474.3,34.4)"><rect x="-8" y="-8" width="16" height="16"/><text y="3.2">1</text></g>
<g class="w" transform="translate(526.4,34.4)"><circle r="7.5"/><text y="3.2">2</text></g>
<g class="w" transform="translate(578.5,34.4)"><circle r="7.5"/><text y="3.2">3</text></g>
<g class="w" transform="translate(604.6,34.4)"><circle r="7.5"/><text y="3.2">4</text></g>
<g class="w" transform="translate(656.7,34.4)"><circle r="7.5"/><text y="3.2">5</text></g>
<g class="w" transform="translate(83.6,51.6)"><circle r="7.5"/><text y="3.2">3</text></g>
<g class="w" transform="translate(109.6,51.6)"><circle r="7.5"/><text y="3.2">4</text></g>
<g class="b" transform="translate(161.7,51.6)"><circle r="7.5"/><text y="3.2">5</text></g>
<g class="b" transform="translate(213.8,51.6)"><circle r="7.5"/><text y="3.2">6</text></g>
<g class="w" transform="translate(265.9,51.6)"><circle r="7.5"/><text y="3.2">7</text></g>
<g class="g" transform="translate(292,51.6)"><rect x="-8" y="-8" width="16" height="16"/><text y="3.2">1</text></g>
<g class="w" transform="translate(344.1,51.6)"><circle r="7.5"/><text y="3.2">2</text></g>
<g class="w" transform="translate(396.2,51.6)"><circle r="7.5"/><text y="3.2">3</text></g>
<g class="w" transform="translate(422.2,51.6)"><circle r="7.5"/><text y="3.2">4</text></g>
<g class="w" transform="translate(474.3,51.6)"><circle r="7.5"/><text y="3.2">5</text></g>
<g class="w" transform="translate(526.4,51.6)"><circle r="7.5"/><text y="3.2">6</text></g>
<g class="w" transform="translate(578.5,51.6)"><circle r="7.5"/><text y="3.2">7</text></g>
<g class="g" transform="translate(604.6,51.6)"><rect x="-8" y="-8" width="16" height="16"/><text y="3.2">1</text></g>
<g class="w" transform="translate(656.7,51.6)"><circle r="7.5"/><text y="3.2">2</text></g>
<g class="w" transform="translate(83.6,68.8)"><circle r="7.5"/><text y="3.2">7</text></g>
<g class="g" transform="translate(109.6,68.8)"><rect x="-8" y="-8" width="16" height="16"/><text y="3.2">1</text></g>
<g class="b" transform="translate(161.7,68.8)"><circle r="7.5"/><text y="3.2">2</text></g>
<g class="b" transform="translate(213.8,68.8)"><circle r="7.5"/><text y="3.2">3</text></g>
<g class="b" transform="translate(239.9,68.8)"><circle r="7.5"/><text y="3.2">4</text></g>
<g class="w" transform="translate(292,68.8)"><circle r="7.5"/><text y="3.2">5</text></g>
<g class="w" transform="translate(344.1,68.8)"><circle r="7.5"/><text y="3.2">6</text></g>
<g class="w" transform="translate(396.2,68.8)"><circle r="7.5"/><text y="3.2">7</text></g>
<g class="g" transform="translate(422.2,68.8)"><rect x="-8" y="-8" width="16" height="16"/><text y="3.2">1</text></g>
<g class="w" transform="translate(474.3,68.8)"><circle r="7.5"/><text y="3.2">2</text></g>
<g class="w" transform="translate(526.4,68.8)"><circle r="7.5"/><text y="3.2">3</text></g>
<g class="w" transform="translate(552.5,68.8)"><circle r="7.5"/><text y="3.2">4</text></g>
<g class="w" transform="translate(604.6,68.8)"><circle r="7.5"/><text y="3.2">5</text></g>
<g class="w" transform="translate(656.7,68.8)"><circle r="7.5"/><text y="3.2">6</text></g>
<g class="w" transform="translate(57.5,86)"><circle r="7.5"/><text y="3.2">4</text></g>
<g class="w" transform="translate(109.6,86)"><circle r="7.5"/><text y="3.2">5</text></g>
<g class="b" transform="translate(161.7,86)"><circle r="7.5"/><text y="3.2">6</text></g>
<g class="b" transform="translate(213.8,86)"><circle r="7.5"/><text y="3.2">7</text></g>
<g class="o" transform="translate(239.9,86)"><rect x="-8" y="-8" width="16" height="16"/><text y="3.2">1</text></g>
<g class="w" transform="translate(292,86)"><circle r="7.5"/><text y="3.2">2</text></g>
<g class="w" transform="translate(344.1,86)"><circle r="7.5"/><text y="3.2">3</text></g>
<g class="w" transform="translate(370.1,86)"><circle r="7.5"/><text y="3.2">4</text></g>
<g class="w" transform="translate(422.2,86)"><circle r="7.5"/><text y="3.2">5</text></g>
<g class="w" transform="translate(474.3,86)"><circle r="7.5"/><text y="3.2">6</text></g>
<g class="w" transform="translate(526.4,86)"><circle r="7.5"/><text y="3.2">7</text></g>
<g class="g" transform="translate(552.5,86)"><rect x="-8" y="-8" width="16" height="16"/><text y="3.2">1</text></g>
<g class="w" transform="translate(604.6,86)"><circle r="7.5"/><text y="3.2">2</text></g>
<g class="w" transform="translate(656.7,86)"><circle r="7.5"/><text y="3.2">3</text></g>
<g class="g" transform="translate(57.5,103.2)"><rect x="-8" y="-8" width="16" height="16"/><text y="3.2">1</text></g>
<g class="w" transform="translate(109.6,103.2)"><circle r="7.5"/><text y="3.2">2</text></g>
<g class="b" transform="translate(161.7,103.2)"><circle r="7.5"/><text y="3.2">3</text></g>
<g class="b" transform="translate(187.8,103.2)"><circle r="7.5"/><text y="3.2">4</text></g>
<g class="b" transform="translate(239.9,103.2)"><circle r="7.5"/><text y="3.2">5</text></g>
<g class="w" transform="translate(292,103.2)"><circle r="7.5"/><text y="3.2">6</text></g>
<g class="w" transform="translate(344.1,103.2)"><circle r="7.5"/><text y="3.2">7</text></g>
<g class="g" transform="translate(370.1,103.2)"><rect x="-8" y="-8" width="16" height="16"/><text y="3.2">1</text></g>
<g class="w" transform="translate(422.2,103.2)"><circle r="7.5"/><text y="3.2">2</text></g>
<g class="w" transform="translate(474.3,103.2)"><circle r="7.5"/><text y="3.2">3</text></g>
<g class="w" transform="translate(500.4,103.2)"><circle r="7.5"/><text y="3.2">4</text></g>
<g class="w" transform="translate(552.5,103.2)"><circle r="7.5"/><text y="3.2">5</text></g>
<g class="w" transform="translate(604.6,103.2)"><circle r="7.5"/><text y="3.2">6</text></g>
<g class="w" transform="translate(656.7,103.2)"><circle r="7.5"/><text y="3.2">7</text></g>
<g class="w" transform="translate(57.5,120.4)"><circle r="7.5"/><text y="3.2">5</text></g>
<g class="w" transform="translate(109.6,120.4)"><circle r="7.5"/><text y="3.2">6</text></g>
<g class="b" transform="translate(161.7,120.4)"><circle r="7.5"/><text y="3.2">7</text></g>
<g class="o" transform="translate(187.8,120.4)"><rect x="-8" y="-8" width="16" height="16"/><text y="3.2">1</text></g>
<g class="b" transform="translate(239.9,120.4)"><circle r="7.5"/><text y="3.2">2</text></g>
<g class="w" transform="translate(292,120.4)"><circle r="7.5"/><text y="3.2">3</text></g>
<g class="w" transform="translate(318,120.4)"><circle r="7.5"/><text y="3.2">4</text></g>
<g class="w" transform="translate(370.1,120.4)"><circle r="7.5"/><text y="3.2">5</text></g>
<g class="w" transform="translate(422.2,120.4)"><circle r="7.5"/><text y="3.2">6</text></g>
<g class="w" transform="translate(474.3,120.4)"><circle r="7.5"/><text y="3.2">7</text></g>
<g class="g" transform="translate(500.4,120.4)"><rect x="-8" y="-8" width="16" height="16"/><text y="3.2">1</text></g>
<g class="w" transform="translate(552.5,120.4)"><circle r="7.5"/><text y="3.2">2</text></g>
<g class="w" transform="translate(604.6,120.4)"><circle r="7.5"/><text y="3.2">3</text></g>
<g class="w" transform="translate(630.6,120.4)"><circle r="7.5"/><text y="3.2">4</text></g>
</g>
</svg>
</body></html>
